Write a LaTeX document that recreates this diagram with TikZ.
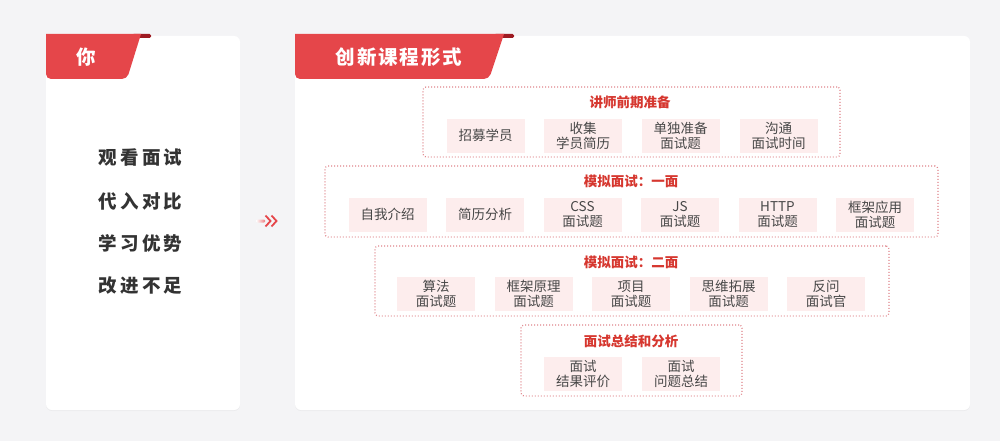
\documentclass[tikz,border=0pt]{standalone}
\usepackage{fontspec}
\setmainfont{Noto Sans CJK SC}
\usetikzlibrary{shadows}
\definecolor{bgc}{HTML}{F4F4F6}
\definecolor{tabred}{HTML}{E5464A}
\definecolor{darkred}{HTML}{9E1B22}
\definecolor{titred}{HTML}{D6372F}
\definecolor{itembg}{HTML}{FDEDED}
\definecolor{itemtxt}{HTML}{474747}
\definecolor{dotc}{HTML}{E0858B}
\definecolor{lefttxt}{HTML}{333333}
\tikzset{
  card/.style={fill=white, rounded corners=6pt, drop shadow={shadow xshift=0pt, shadow yshift=-1pt, opacity=0.07}},
  grp/.style={draw=dotc, line width=1.2pt, dash pattern=on 0.9pt off 2.1pt, rounded corners=3pt, inner sep=0pt},
  item/.style={fill=itembg, minimum width=78pt, minimum height=34pt, inner sep=0pt, align=center, text=itemtxt, font=\fontsize{13.5}{15}\selectfont},
  gtitle/.style={text=titred, font=\fontsize{13.5}{15}\selectfont\bfseries, inner sep=0pt},
  lefttext/.style={text=lefttxt, font=\fontsize{18.5}{20}\selectfont\bfseries\addfontfeature{LetterSpace=18}, inner sep=0pt},
  tabtext/.style={text=white, font=\fontsize{19.5}{21}\selectfont\bfseries\addfontfeature{LetterSpace=10}, inner sep=0pt}
}
\begin{document}
\begin{tikzpicture}[x=1pt,y=-1pt]
\useasboundingbox (0,0) rectangle (1000,441);
\fill[bgc] (0,0) rectangle (1000,441);
% cards
\fill[card] (46,36) rectangle (240,410);
\fill[card] (295,36) rectangle (970,410);
% left tab
\fill[darkred, rounded corners=1.5pt] (132,34) rectangle (151,38);
\fill[tabred] (46,34) -- (141,34) [rounded corners=5pt] -- (127,79) -- (46,79) [sharp corners] -- cycle;
\node[tabtext] (tabL) at (86,57) {你};
% right tab
\fill[darkred, rounded corners=1.5pt] (494,34) rectangle (514,38);
\fill[tabred] (295,34) -- (504,34) [rounded corners=5pt] -- (489,79) -- (295,79) [sharp corners] -- cycle;
\node[tabtext] (tabR) at (399,57) {创新课程形式};
% left texts
\node[lefttext] (l1) at (140.5,158) {观看面试};
\node[lefttext] (l2) at (140.5,201) {代入对比};
\node[lefttext] (l3) at (140.5,243) {学习优势};
\node[lefttext] (l4) at (140.5,286) {改进不足};
% arrow
\shade[left color=white, right color=tabred!70, rounded corners=1pt] (256,219.5) rectangle (265,222.5);
\draw[tabred, line width=1.8pt] (265.5,215.5) -- (270.5,221) -- (265.5,226.5);
\draw[tabred, line width=1.8pt] (271.5,215.5) -- (276.5,221) -- (271.5,226.5);
% group 1
\node[grp, minimum width=417pt, minimum height=70pt] (g1) at (631.5,122) {};
\node[gtitle] (t1) at (630,102) {讲师前期准备};
\node[item] (a1) at (485.5,135.5) {招募学员};
\node[item] (a2) at (583,135.5) {收集\\学员简历};
\node[item] (a3) at (680.5,135.5) {单独准备\\面试题};
\node[item] (a4) at (778.5,135.5) {沟通\\面试时间};
% group 2
\node[grp, minimum width=613pt, minimum height=71pt] (g2) at (631.5,201.5) {};
\node[gtitle] (t2) at (631,181) {模拟面试：一面};
\node[item] (b1) at (387.5,214.5) {自我介绍};
\node[item] (b2) at (485,214.5) {简历分析};
\node[item] (b3) at (582.5,214.5) {CSS\\面试题};
\node[item] (b4) at (680,214.5) {JS\\面试题};
\node[item] (b5) at (777.5,214.5) {HTTP\\面试题};
\node[item] (b6) at (875,214.5) {框架应用\\面试题};
% group 3
\node[grp, minimum width=514pt, minimum height=70pt] (g3) at (632,281) {};
\node[gtitle] (t3) at (631,262) {模拟面试：二面};
\node[item] (c1) at (436,294) {算法\\面试题};
\node[item] (c2) at (533.5,294) {框架原理\\面试题};
\node[item] (c3) at (631,294) {项目\\面试题};
\node[item] (c4) at (728.5,294) {思维拓展\\面试题};
\node[item] (c5) at (826,294) {反问\\面试官};
% group 4
\node[grp, minimum width=221pt, minimum height=71pt] (g4) at (631.5,360.5) {};
\node[gtitle] (t4) at (631,341) {面试总结和分析};
\node[item] (d1) at (583,373.5) {面试\\结果评价};
\node[item] (d2) at (681,373.5) {面试\\问题总结};
\end{tikzpicture}
\end{document}
